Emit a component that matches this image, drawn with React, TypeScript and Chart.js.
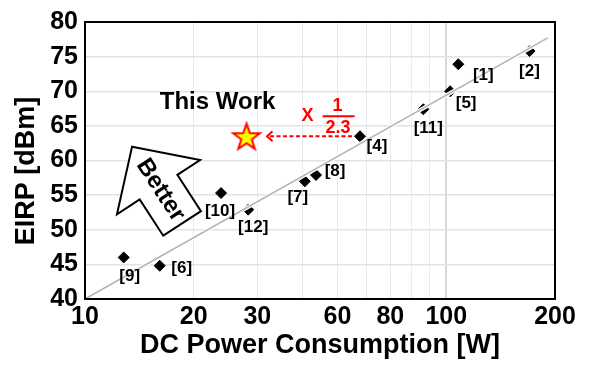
import { useEffect, useRef } from 'react';
import { Chart, registerables } from 'chart.js';

Chart.register(...registerables);

// ---- data ----
const refLabels = ['[1]', '[2]', '[4]', '[5]', '[6]', '[7]', '[8]', '[9]', '[10]', '[11]', '[12]'];
const dcPowerW = [108, 170, 57.7, 102.5, 16.1, 40.6, 43.6, 12.8, 23.8, 86.4, 28.3];
const eirpDbm = [73.9, 75.8, 63.5, 70.0, 44.8, 57.0, 57.9, 46.0, 55.3, 67.4, 52.9];

const thisWorkPowerW = [28];
const thisWorkEirpDbm = [63.5];

const trendPowerW = [10, 191];
const trendEirpDbm = [40, 77.7];

const xGridValues = [10, 20, 30, 40, 50, 60, 70, 80, 90, 100, 200];
const xTickValues = [10, 20, 30, 50, 70, 100, 200];
const xTickLabels = ['10', '20', '30', '60', '80', '100', '200'];

const yMin = 40;
const yMax = 80;
const yStep = 5;

const xTitle = 'DC Power Consumption [W]';
const yTitle = 'EIRP [dBm]';
const ratioText = ['X', '1', '2.3'];

// ---- layout (pixel offsets for labels, not data) ----
const labelOffsets: [number, number][] = [
  [25, 11], [0, 20], [17, 10], [16, 12], [22, 3], [-7, 16], [19, -4], [6, 19], [-1, 18], [5, 19], [5, 18],
];
const betterTip = { x: 13.5, y: 62 };

const FONT = "'Liberation Sans', Arial, Helvetica, sans-serif";

function makeStar(): HTMLCanvasElement {
  const c = document.createElement('canvas');
  c.width = 34;
  c.height = 34;
  const ctx = c.getContext('2d')!;
  const cx = 17, cy = 18.3, R = 14, r = 14 * 0.4;
  ctx.beginPath();
  for (let i = 0; i < 10; i++) {
    const a = -Math.PI / 2 + (i * Math.PI) / 5;
    const rad = i % 2 === 0 ? R : r;
    ctx.lineTo(cx + rad * Math.cos(a), cy + rad * Math.sin(a));
  }
  ctx.closePath();
  ctx.fillStyle = '#ffff00';
  ctx.fill();
  ctx.lineWidth = 2;
  ctx.lineJoin = 'miter';
  ctx.strokeStyle = '#ff0000';
  ctx.stroke();
  return c;
}

const annotations = {
  id: 'annotations',
  afterDatasetsDraw(chart: any) {
    const { ctx, chartArea } = chart;
    const xs = chart.scales.x;
    const ys = chart.scales.y;
    ctx.save();

    // frame
    ctx.strokeStyle = '#000';
    ctx.lineWidth = 2;
    ctx.strokeRect(chartArea.left, chartArea.top, chartArea.right - chartArea.left, chartArea.bottom - chartArea.top);

    // y axis title (slightly below the plot centre, as in the reference)
    ctx.save();
    ctx.translate(26.3, (chartArea.top + chartArea.bottom) / 2 + 10.5);
    ctx.rotate(-Math.PI / 2);
    ctx.fillStyle = '#000';
    ctx.textAlign = 'center';
    ctx.textBaseline = 'middle';
    ctx.font = `bold 27px ${FONT}`;
    ctx.fillText(yTitle, 0, 0);
    ctx.restore();

    // point labels
    ctx.fillStyle = '#000';
    ctx.textAlign = 'center';
    ctx.textBaseline = 'middle';
    ctx.font = `bold 17px ${FONT}`;
    refLabels.forEach((t, i) => {
      const px = xs.getPixelForValue(dcPowerW[i]);
      const py = ys.getPixelForValue(eirpDbm[i]);
      ctx.fillText(t, px + labelOffsets[i][0], py + labelOffsets[i][1]);
    });

    // This work
    const sx = xs.getPixelForValue(thisWorkPowerW[0]);
    const sy = ys.getPixelForValue(thisWorkEirpDbm[0]);
    ctx.font = `bold 24px ${FONT}`;
    ctx.fillText('This Work', sx - 29, sy - 34);

    // red dashed arrow from [4] to star
    const k = refLabels.indexOf('[4]');
    const px4 = xs.getPixelForValue(dcPowerW[k]);
    ctx.strokeStyle = '#ff0000';
    ctx.lineWidth = 2;
    ctx.setLineDash([4, 2.5]);
    ctx.beginPath();
    ctx.moveTo(px4 - 8, sy);
    ctx.lineTo(sx + 21, sy);
    ctx.stroke();
    ctx.setLineDash([]);
    ctx.beginPath();
    ctx.moveTo(sx + 26, sy - 5);
    ctx.lineTo(sx + 20.5, sy);
    ctx.lineTo(sx + 26, sy + 5);
    ctx.stroke();

    // ratio label
    ctx.fillStyle = '#ff0000';
    ctx.font = `bold 18px ${FONT}`;
    ctx.fillText(ratioText[0], sx + 61, sy - 20);
    ctx.fillText(ratioText[1], sx + 91, sy - 30);
    ctx.fillText(ratioText[2], sx + 91.5, sy - 8);
    ctx.beginPath();
    ctx.moveTo(sx + 76, sy - 20);
    ctx.lineTo(sx + 108, sy - 20);
    ctx.stroke();

    // "Better" arrow
    const tx = xs.getPixelForValue(betterTip.x);
    const ty = ys.getPixelForValue(betterTip.y);
    ctx.translate(tx, ty);
    ctx.rotate((-33.1 * Math.PI) / 180);
    ctx.beginPath();
    ctx.moveTo(0, 0);
    ctx.lineTo(49.6, 48.4);
    ctx.lineTo(22.5, 48.4);
    ctx.lineTo(22.5, 91.6);
    ctx.lineTo(-22.5, 91.6);
    ctx.lineTo(-22.5, 48.4);
    ctx.lineTo(-49.6, 48.4);
    ctx.closePath();
    ctx.fillStyle = '#fff';
    ctx.fill();
    ctx.strokeStyle = '#000';
    ctx.lineWidth = 2;
    ctx.lineJoin = 'miter';
    ctx.stroke();
    ctx.translate(0, 52);
    ctx.rotate(Math.PI / 2);
    ctx.fillStyle = '#000';
    ctx.font = `bold 24px ${FONT}`;
    ctx.fillText('Better', 0, 0);

    ctx.restore();
  },
};

export default function App() {
  const ref = useRef<HTMLCanvasElement>(null);

  useEffect(() => {
    Chart.defaults.font.family = FONT;
    const star = makeStar();
    const chart = new Chart(ref.current!, {
      type: 'scatter',
      data: {
        datasets: [
          {
            label: 'trend',
            data: trendPowerW.map((v, i) => ({ x: v, y: trendEirpDbm[i] })),
            showLine: true,
            borderColor: '#b4b4b4',
            borderWidth: 1.6,
            pointRadius: 0,
            order: 0,
          },
          {
            label: 'trend-halo',
            data: trendPowerW.map((v, i) => ({ x: v, y: trendEirpDbm[i] })),
            showLine: true,
            borderColor: '#ffffff',
            borderWidth: 4,
            pointRadius: 0,
            order: 1,
          },
          {
            label: 'References',
            data: dcPowerW.map((v, i) => ({ x: v, y: eirpDbm[i] })),
            pointStyle: 'rectRot',
            pointRadius: 5.5,
            backgroundColor: '#000',
            borderColor: '#000',
            borderWidth: 1,
            order: 2,
          },
          {
            label: 'This Work',
            data: thisWorkPowerW.map((v, i) => ({ x: v, y: thisWorkEirpDbm[i] })),
            pointStyle: star as any,
            pointRadius: 15,
            order: 3,
          },
        ],
      },
      options: {
        responsive: false,
        animation: false,
        events: [],
        layout: { padding: { top: 17, right: 45, left: 0, bottom: 0 } },
        plugins: { legend: { display: false }, tooltip: { enabled: false } },
        scales: {
          x: {
            type: 'logarithmic',
            min: 10,
            max: 200,
            afterBuildTicks: (s: any) => {
              s.ticks = xGridValues.map((v) => ({ value: v }));
            },
            afterFit: (s: any) => {
              s.height = 68;
            },
            ticks: {
              autoSkip: false,
              maxRotation: 0,
              minRotation: 0,
              padding: 3,
              color: '#000',
              font: { size: 25, weight: 'bold' },
              callback: (value: any) => {
                const i = xTickValues.indexOf(Number(value));
                return i >= 0 ? xTickLabels[i] : '';
              },
            },
            grid: {
              drawTicks: false,
              color: (c: any) => (c.tick && c.tick.value === 100 ? '#d9d9d9' : '#ebebeb'),
              lineWidth: (c: any) => (c.tick && c.tick.value === 100 ? 2 : 1),
            },
            border: { display: false },
            title: {
              display: true,
              text: xTitle,
              color: '#000',
              font: { size: 27, weight: 'bold' },
              padding: { top: 0, bottom: 5 },
            },
          },
          y: {
            type: 'linear',
            min: yMin,
            max: yMax,
            afterFit: (s: any) => {
              s.width = 85;
            },
            ticks: {
              stepSize: yStep,
              padding: 7,
              color: '#000',
              font: { size: 25, weight: 'bold' },
            },
            grid: { drawTicks: false, color: '#e2e2e2', lineWidth: 1.5 },
            border: { display: false },
            title: { display: false, text: yTitle },
          },
        },
      },
      plugins: [annotations],
    } as any);
    return () => chart.destroy();
  }, []);

  return (
    <div style={{ position: 'absolute', left: 0, top: 0, width: 600, height: 367, background: '#fff' }}>
      <canvas ref={ref} width={600} height={367} style={{ display: 'block' }} />
    </div>
  );
}
